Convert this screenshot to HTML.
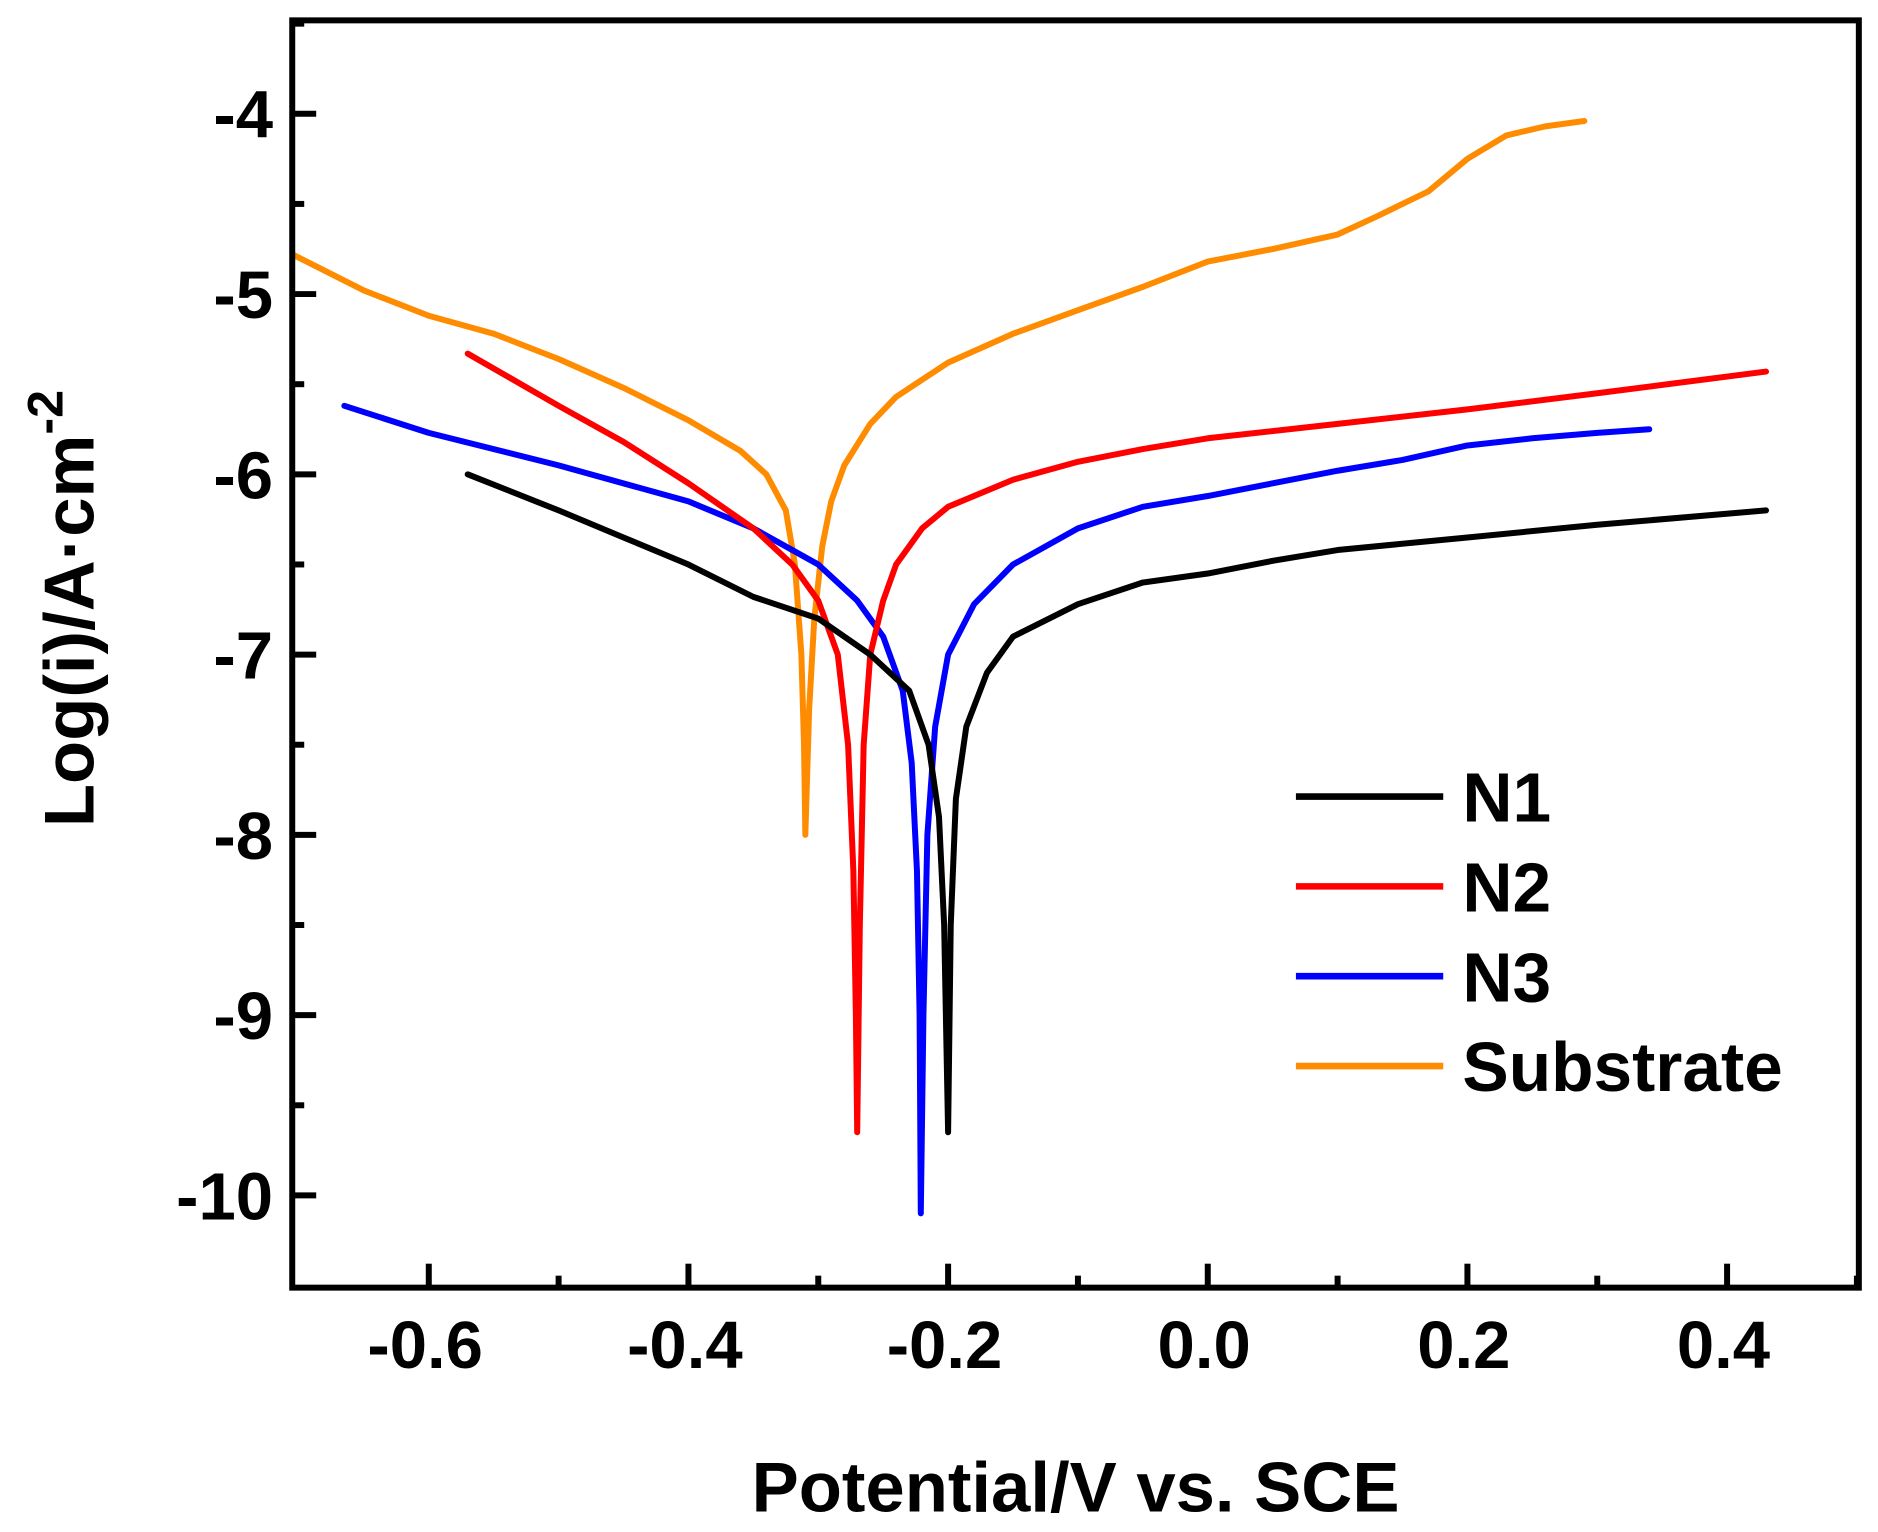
<!DOCTYPE html>
<html><head><meta charset="utf-8"><style>
html,body{margin:0;padding:0;background:#fff;}
svg{display:block;}
text{font-family:"Liberation Sans",Arial,sans-serif;font-weight:bold;fill:#000;}
</style></head>
<body>
<svg id="chart" width="1878" height="1532" viewBox="0 0 1568 1279" preserveAspectRatio="none" xmlns="http://www.w3.org/2000/svg">
<g id="plot"></g>
</svg>
<script>
const xTicks=[-0.6,-0.4,-0.2,0.0,0.2,0.4];
const xTickLabels=["-0.6","-0.4","-0.2","0.0","0.2","0.4"];
const yTicks=[-4,-5,-6,-7,-8,-9,-10];
const yTickLabels=["-4","-5","-6","-7","-8","-9","-10"];
const seriesNames=["N1","N2","N3","Substrate"];
const seriesColors=["#000000","#ff0000","#0000ff","#ff8c00"];
const n1V=[-0.57,-0.5,-0.45,-0.4,-0.35,-0.3,-0.26,-0.23,-0.215,-0.207,-0.203,-0.2,-0.198,-0.194,-0.186,-0.17,-0.15,-0.1,-0.05,0,0.05,0.1,0.2,0.3,0.43];
const n1I=[-6.0,-6.2,-6.35,-6.5,-6.68,-6.8,-7.0,-7.2,-7.5,-7.9,-8.5,-9.65,-8.5,-7.8,-7.4,-7.1,-6.9,-6.72,-6.6,-6.55,-6.48,-6.42,-6.35,-6.28,-6.2];
const n2V=[-0.57,-0.5,-0.45,-0.4,-0.35,-0.32,-0.3,-0.285,-0.277,-0.273,-0.271,-0.27,-0.268,-0.265,-0.26,-0.25,-0.24,-0.22,-0.2,-0.15,-0.1,-0.05,0,0.1,0.2,0.3,0.43];
const n2I=[-5.33,-5.62,-5.82,-6.05,-6.3,-6.5,-6.7,-7.0,-7.5,-8.2,-9.0,-9.65,-8.5,-7.5,-7.0,-6.7,-6.5,-6.3,-6.18,-6.03,-5.93,-5.86,-5.8,-5.72,-5.64,-5.55,-5.43];
const n3V=[-0.665,-0.6,-0.5,-0.4,-0.35,-0.3,-0.27,-0.25,-0.235,-0.228,-0.224,-0.222,-0.221,-0.219,-0.216,-0.21,-0.2,-0.18,-0.15,-0.1,-0.05,0,0.05,0.1,0.15,0.2,0.25,0.3,0.34];
const n3I=[-5.62,-5.77,-5.95,-6.15,-6.3,-6.5,-6.7,-6.9,-7.2,-7.6,-8.2,-9.0,-10.1,-9.0,-8.0,-7.4,-7.0,-6.72,-6.5,-6.3,-6.18,-6.12,-6.05,-5.98,-5.92,-5.84,-5.8,-5.77,-5.75];
const subV=[-0.705,-0.65,-0.6,-0.55,-0.5,-0.45,-0.4,-0.36,-0.34,-0.325,-0.318,-0.313,-0.311,-0.31,-0.307,-0.303,-0.297,-0.29,-0.28,-0.26,-0.24,-0.2,-0.15,-0.1,-0.05,0,0.05,0.1,0.13,0.17,0.2,0.23,0.26,0.29];
const subI=[-4.78,-4.98,-5.12,-5.22,-5.36,-5.52,-5.7,-5.87,-6.0,-6.2,-6.5,-7.0,-7.5,-8.0,-7.3,-6.8,-6.4,-6.15,-5.95,-5.72,-5.57,-5.38,-5.22,-5.09,-4.96,-4.82,-4.75,-4.67,-4.57,-4.43,-4.25,-4.12,-4.07,-4.04];

const L=244,R=1552,T=17,B=1075;
function xs(v){return 358+(v+0.6)/0.2*216.8;}
function ys(v){return 95+(-4-v)*150.5;}
const NS="http://www.w3.org/2000/svg";
const g=document.getElementById('plot');
function mk(tag,attrs){const e=document.createElementNS(NS,tag);for(const k in attrs)e.setAttribute(k,attrs[k]);g.appendChild(e);return e;}

const allV=[n1V,n2V,n3V,subV], allI=[n1I,n2I,n3I,subI];
const keys=["n1","n2","n3","substrate"];
for(let s=3;s>=0;s--){
  const d=allV[s].map((v,i)=>(i?'L':'M')+xs(v).toFixed(1)+','+ys(allI[s][i]).toFixed(1)).join(' ');
  const p=mk('path',{d:d,fill:'none',stroke:seriesColors[s],'stroke-width':5,'stroke-linejoin':'round','stroke-linecap':'round'});
  
  
}
const fr=mk('rect',{x:L,y:T,width:R-L,height:B-T,fill:'none',stroke:'#000','stroke-width':5});


xTicks.forEach((v,i)=>{
  const x=xs(v);
  const t=mk('line',{x1:x,x2:x,y1:B,y2:B-20,stroke:'#000','stroke-width':5});
  
  
  const m=mk('line',{x1:x+108.4,x2:x+108.4,y1:B,y2:B-10,stroke:'#000','stroke-width':5});
  
  
  const lb=mk('text',{x:x-3,y:1142,'text-anchor':'middle','font-size':56});
  lb.textContent=xTickLabels[i];
  
  
});
yTicks.forEach((v,i)=>{
  const y=ys(v);
  const t=mk('line',{x1:L,x2:L+20,y1:y,y2:y,stroke:'#000','stroke-width':5});
  
  
  const ym=ys(v-0.5);
  if(ym<B-5){const m=mk('line',{x1:L,x2:L+10,y1:ym,y2:ym,stroke:'#000','stroke-width':5});
  
  }
  const lb=mk('text',{x:228,y:y+20,'text-anchor':'end','font-size':56});
  lb.textContent=yTickLabels[i];
  
  
});
const ym1=ys(-3.5);
const mt=mk('line',{x1:L,x2:L+10,y1:ym1,y2:ym1,stroke:'#000','stroke-width':5});


const xt=mk('text',{x:898,y:1262,'text-anchor':'middle','font-size':59});
xt.textContent='Potential/V vs. SCE';


const yt=mk('text',{x:0,y:0,'text-anchor':'middle','font-size':59,transform:'translate(78,508) rotate(-90)'});
yt.innerHTML='Log(i)/A·cm<tspan dy="-26" font-size="42">-2</tspan>';


seriesNames.forEach((n,i)=>{
  const y=665+i*75;
  const ln=mk('line',{x1:1082,x2:1205,y1:y,y2:y,stroke:seriesColors[i],'stroke-width':5.5});
  
  
  const tx=mk('text',{x:1221,y:y+21,'font-size':58});
  tx.textContent=n;
  
  
});
</script>
</body></html>
